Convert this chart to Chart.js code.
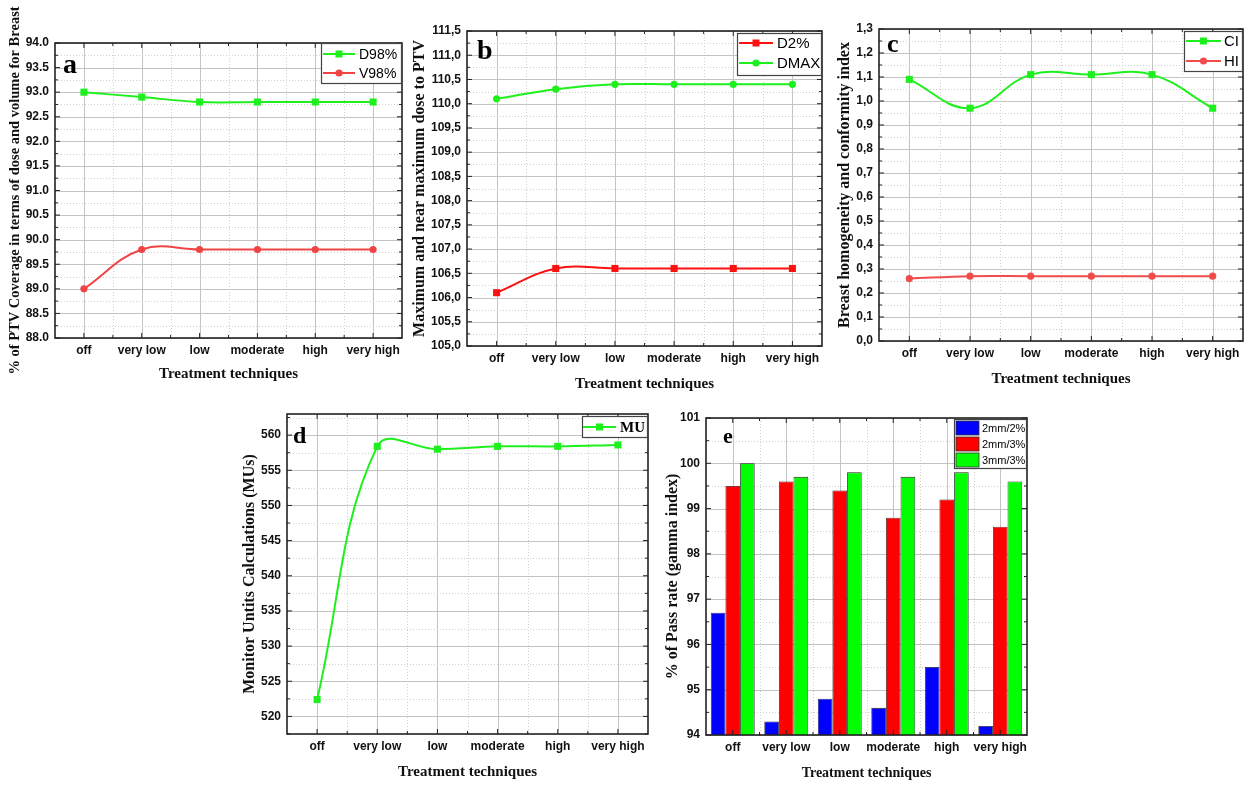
<!DOCTYPE html>
<html>
<head>
<meta charset="utf-8">
<script src="https://cdn.jsdelivr.net/npm/chart.js@4.4.0/dist/chart.umd.min.js"></script>
<style>
  body { margin: 0; background: #fff; width: 1245px; height: 785px; position: relative; overflow: hidden; }
  canvas { position: absolute; }
</style>
</head>
<body>
<canvas id="chartA" width="410" height="400" style="left:0px;top:0px"></canvas>
<canvas id="chartB" width="420" height="400" style="left:410px;top:0px"></canvas>
<canvas id="chartC" width="415" height="400" style="left:830px;top:0px"></canvas>
<canvas id="chartD" width="430" height="385" style="left:230px;top:400px"></canvas>
<canvas id="chartE" width="380" height="385" style="left:660px;top:400px"></canvas>
<script>
// x categories, shared by every panel
const techniques = ['off', 'very low', 'low', 'moderate', 'high', 'very high'];

// a - PTV coverage
const d98 = [93.0, 92.9, 92.8, 92.8, 92.8, 92.8];
const v98 = [89.0, 89.8, 89.8, 89.8, 89.8, 89.8];
const ticksA = [88.0, 88.5, 89.0, 89.5, 90.0, 90.5, 91.0, 91.5, 92.0, 92.5, 93.0, 93.5, 94.0];

// b - maximum and near maximum dose
const d2 = [106.1, 106.6, 106.6, 106.6, 106.6, 106.6];
const dmax = [110.1, 110.3, 110.4, 110.4, 110.4, 110.4];
const ticksB = [105.0, 105.5, 106.0, 106.5, 107.0, 107.5, 108.0, 108.5, 109.0, 109.5, 110.0, 110.5, 111.0, 111.5];

// c - conformity / homogeneity index
const ci = [1.09, 0.97, 1.11, 1.11, 1.11, 0.97];
const hi = [0.26, 0.27, 0.27, 0.27, 0.27, 0.27];
const ticksC = [0.0, 0.1, 0.2, 0.3, 0.4, 0.5, 0.6, 0.7, 0.8, 0.9, 1.0, 1.1, 1.2, 1.3];

// d - monitor units
const mu = [522.4, 558.4, 558.0, 558.4, 558.4, 558.6];
const ticksD = [520, 525, 530, 535, 540, 545, 550, 555, 560];

// e - gamma pass rate
const pass2mm2 = [96.7, 94.3, 94.8, 94.6, 95.5, 94.2];
const pass2mm3 = [99.5, 99.6, 99.4, 98.8, 99.2, 98.6];
const pass3mm3 = [100.0, 99.7, 99.8, 99.7, 99.8, 99.6];
const ticksE = [94, 95, 96, 97, 98, 99, 100, 101];

const GREEN = '#1ef01e';

// minor values halfway between the major ticks
function minorValues(ticks, min, max) {
    let out = [];
    let step = ticks[1] - ticks[0];
    for (let i = 0; i < ticks.length - 1; i++) out.push((ticks[i] + ticks[i + 1]) / 2);
    if (ticks[0] - step / 2 >= min - 1e-9) out.push(ticks[0] - step / 2);
    if (ticks[ticks.length - 1] + step / 2 <= max + 1e-9) out.push(ticks[ticks.length - 1] + step / 2);
    return out;
}

function seg(ctx, x1, y1, x2, y2) {
    ctx.beginPath();
    ctx.moveTo(x1, y1);
    ctx.lineTo(x2, y2);
    ctx.stroke();
}

// Origin-like grid, frame, inward ticks, panel letter and boxed legend
const originStyle = {
    id: 'originStyle',
    beforeDatasetsDraw(chart, args, opts) {
        const ctx = chart.ctx, area = chart.chartArea;
        const x = chart.scales.x, y = chart.scales.y;
        const n = chart.data.labels.length;
        ctx.save();
        ctx.lineWidth = 1;
        // dotted minor grid
        ctx.strokeStyle = '#cfcfcf';
        ctx.setLineDash([1, 2]);
        minorValues(opts.ticks, y.min, y.max).forEach(function(v) {
            let py = Math.round(y.getPixelForValue(v)) + 0.5;
            seg(ctx, area.left, py, area.right, py);
        });
        for (let i = 0; i < n - 1; i++) {
            let px = Math.round((x.getPixelForValue(i) + x.getPixelForValue(i + 1)) / 2) + 0.5;
            seg(ctx, px, area.top, px, area.bottom);
        }
        // solid major grid
        ctx.setLineDash([]);
        ctx.strokeStyle = '#c4c4c4';
        opts.ticks.forEach(function(v) {
            let py = Math.round(y.getPixelForValue(v)) + 0.5;
            seg(ctx, area.left, py, area.right, py);
        });
        for (let i = 0; i < n; i++) {
            let px = Math.round(x.getPixelForValue(i)) + 0.5;
            seg(ctx, px, area.top, px, area.bottom);
        }
        ctx.restore();
    },
    afterDraw(chart, args, opts) {
        const ctx = chart.ctx, area = chart.chartArea;
        const x = chart.scales.x, y = chart.scales.y;
        const n = chart.data.labels.length;
        ctx.save();
        ctx.strokeStyle = '#222';
        ctx.lineWidth = 1;
        // inward ticks on all four sides
        opts.ticks.forEach(function(v) {
            let py = y.getPixelForValue(v);
            seg(ctx, area.left, py, area.left + 5, py);
            seg(ctx, area.right - 5, py, area.right, py);
        });
        minorValues(opts.ticks, y.min, y.max).forEach(function(v) {
            let py = y.getPixelForValue(v);
            seg(ctx, area.left, py, area.left + 3, py);
            seg(ctx, area.right - 3, py, area.right, py);
        });
        for (let i = 0; i < n; i++) {
            let px = x.getPixelForValue(i);
            seg(ctx, px, area.bottom, px, area.bottom - 5);
            seg(ctx, px, area.top, px, area.top + 5);
            if (i < n - 1) {
                let pm = (px + x.getPixelForValue(i + 1)) / 2;
                seg(ctx, pm, area.bottom, pm, area.bottom - 3);
                seg(ctx, pm, area.top, pm, area.top + 3);
            }
        }
        // frame
        ctx.lineWidth = 1.6;
        ctx.strokeRect(area.left, area.top, area.right - area.left, area.bottom - area.top);

        // panel letter
        ctx.fillStyle = '#000';
        ctx.font = 'bold ' + opts.letterSize + 'px "Liberation Serif"';
        ctx.textAlign = 'left';
        ctx.textBaseline = 'alphabetic';
        ctx.fillText(opts.letter, area.left + opts.letterDx, area.top + opts.letterDy);

        // legend box
        const lg = opts.legend;
        const left = area.right - lg.width, top = area.top + lg.top;
        ctx.fillStyle = '#fff';
        ctx.fillRect(left, top, lg.width, lg.height);
        ctx.strokeStyle = '#444';
        ctx.lineWidth = 1.2;
        ctx.strokeRect(left + 0.5, top + 0.5, lg.width - 1, lg.height - 1);
        chart.data.datasets.forEach(function(ds, i) {
            let yy = top + lg.row0 + i * lg.rowStep;
            if (lg.swatch) {
                ctx.fillStyle = ds.backgroundColor;
                ctx.fillRect(left + lg.s0, yy - 7, lg.s1 - lg.s0, 14);
                ctx.strokeStyle = '#333';
                ctx.lineWidth = 0.8;
                ctx.strokeRect(left + lg.s0, yy - 7, lg.s1 - lg.s0, 14);
            } else {
                ctx.strokeStyle = ds.borderColor;
                ctx.lineWidth = 2;
                seg(ctx, left + lg.s0, yy, left + lg.s1, yy);
                let mx = left + (lg.s0 + lg.s1) / 2;
                ctx.fillStyle = ds.borderColor;
                if (ds.pointStyle === 'rect') {
                    ctx.fillRect(mx - 3.5, yy - 3.5, 7, 7);
                } else {
                    ctx.beginPath();
                    ctx.arc(mx, yy, 3.6, 0, Math.PI * 2);
                    ctx.fill();
                }
            }
            ctx.fillStyle = '#000';
            ctx.font = lg.font;
            ctx.textAlign = 'left';
            ctx.textBaseline = 'middle';
            ctx.fillText(ds.label, left + lg.tx, yy + 1);
        });
        ctx.restore();
    }
};

function lineDataset(label, data, color, style) {
    return {
        label: label,
        data: data,
        borderColor: color,
        backgroundColor: color,
        pointBackgroundColor: color,
        pointBorderColor: color,
        pointBorderWidth: 0,
        pointStyle: style,
        pointRadius: style === 'rect' ? 5 : 3.6,
        borderWidth: 2,
        tension: 0.4,
        fill: false
    };
}

const tickFont = { family: 'Liberation Sans', size: 12, weight: 'bold' };

// builds one panel; g holds the geometry of the plot area inside the canvas
function buildChart(id, type, datasets, ticks, min, max, fmt, yTitle, g, deco) {
    return new Chart(document.getElementById(id), {
        type: type,
        data: { labels: techniques, datasets: datasets },
        plugins: [originStyle],
        options: {
            responsive: false,
            animation: false,
            layout: { autoPadding: false, padding: { top: g.top, right: g.right, bottom: 0, left: 0 } },
            plugins: {
                legend: { display: false },
                tooltip: { enabled: false },
                originStyle: Object.assign({ ticks: ticks }, deco)
            },
            scales: {
                x: {
                    type: 'category',
                    offset: true,
                    grid: { display: false, drawTicks: false },
                    border: { display: false },
                    ticks: { font: tickFont, color: '#111', padding: 5, maxRotation: 0, autoSkip: false },
                    title: {
                        display: true,
                        text: 'Treatment techniques',
                        color: '#111',
                        font: { family: 'Liberation Serif', size: g.xTitleSize, weight: 'bold' },
                        padding: { top: 0, bottom: g.xTitlePad }
                    },
                    afterFit: function(s) { s.height = g.xHeight; }
                },
                y: {
                    min: min,
                    max: max,
                    grid: { display: false, drawTicks: false },
                    border: { display: false },
                    afterBuildTicks: function(s) { s.ticks = ticks.map(function(v) { return { value: v }; }); },
                    ticks: { font: tickFont, color: '#111', padding: 6, autoSkip: false, callback: fmt },
                    title: {
                        display: true,
                        text: yTitle,
                        color: '#111',
                        font: { family: 'Liberation Serif', size: g.yTitleSize, weight: 'bold' },
                        padding: { top: g.yTitlePad, bottom: 0 }
                    },
                    afterFit: function(s) { s.width = g.yWidth; }
                }
            }
        }
    });
}

const dot1 = function(v) { return v.toFixed(1); };
const comma1 = function(v) { return v.toFixed(1).replace('.', ','); };
const plain = function(v) { return String(v); };

// a
buildChart('chartA', 'line',
    [lineDataset('D98%', d98, GREEN, 'rect'), lineDataset('V98%', v98, '#f04444', 'circle')],
    ticksA, 88, 94, dot1,
    '% of PTV Coverage in terms of dose and volume for Breast',
    { top: 43, right: 8, yWidth: 55, xHeight: 62, yTitleSize: 14.5, yTitlePad: 6.3, xTitleSize: 15, xTitlePad: 17 },
    { letter: 'a', letterSize: 28, letterDx: 8, letterDy: 30,
      legend: { top: 0, width: 81, height: 41, row0: 11, rowStep: 19, s0: 2, s1: 34, tx: 38, font: '14px "Liberation Sans"' } });

// b
buildChart('chartB', 'line',
    [lineDataset('D2%', d2, '#ff1010', 'rect'), lineDataset('DMAX', dmax, GREEN, 'circle')],
    ticksB, 105, 111.5, comma1,
    'Maximum and near maximum dose to PTV',
    { top: 31, right: 8, yWidth: 57, xHeight: 54, yTitleSize: 16, yTitlePad: 0.5, xTitleSize: 15, xTitlePad: 7 },
    { letter: 'b', letterSize: 28, letterDx: 10, letterDy: 28,
      legend: { top: 2, width: 85, height: 43, row0: 10, rowStep: 20, s0: 2, s1: 36, tx: 40, font: '15px "Liberation Sans"' } });

// c
buildChart('chartC', 'line',
    [lineDataset('CI', ci, GREEN, 'rect'), lineDataset('HI', hi, '#f04c4c', 'circle')],
    ticksC, 0, 1.3, comma1,
    'Breast homogeneity and conformity index',
    { top: 29, right: 2, yWidth: 49, xHeight: 59, yTitleSize: 16, yTitlePad: 5.4, xTitleSize: 15, xTitlePad: 12 },
    { letter: 'c', letterSize: 26, letterDx: 8, letterDy: 23,
      legend: { top: 2, width: 59, height: 41, row0: 10, rowStep: 20, s0: 2, s1: 37, tx: 40, font: '15px "Liberation Sans"' } });

// d
buildChart('chartD', 'line',
    [lineDataset('MU', mu, GREEN, 'rect')],
    ticksD, 517.5, 563, plain,
    'Monitor Untits Calculations (MUs)',
    { top: 14, right: 12, yWidth: 57, xHeight: 51, yTitleSize: 16, yTitlePad: 10, xTitleSize: 15, xTitlePad: 4 },
    { letter: 'd', letterSize: 24, letterDx: 6, letterDy: 29,
      legend: { top: 2, width: 66, height: 22, row0: 11, rowStep: 20, s0: 1, s1: 34, tx: 38, font: 'bold 15px "Liberation Serif"' } });

// e
const barStyle = { borderColor: '#222', borderWidth: 0.8, barPercentage: 1.0, categoryPercentage: 0.82 };
buildChart('chartE', 'bar',
    [Object.assign({ label: '2mm/2%', data: pass2mm2, backgroundColor: '#0000ff' }, barStyle),
     Object.assign({ label: '2mm/3%', data: pass2mm3, backgroundColor: '#ff0000' }, barStyle),
     Object.assign({ label: '3mm/3%', data: pass3mm3, backgroundColor: '#00ff00' }, barStyle)],
    ticksE, 94, 101, plain,
    '% of Pass rate (gamma index)',
    { top: 18, right: 13, yWidth: 46, xHeight: 50, yTitleSize: 16, yTitlePad: 3, xTitleSize: 14, xTitlePad: 3.6 },
    { letter: 'e', letterSize: 22, letterDx: 17, letterDy: 25,
      legend: { top: 1, width: 73, height: 50, row0: 9, rowStep: 16, s0: 2, s1: 25, tx: 28, font: '11px "Liberation Sans"', swatch: true } });
</script>
</body>
</html>
